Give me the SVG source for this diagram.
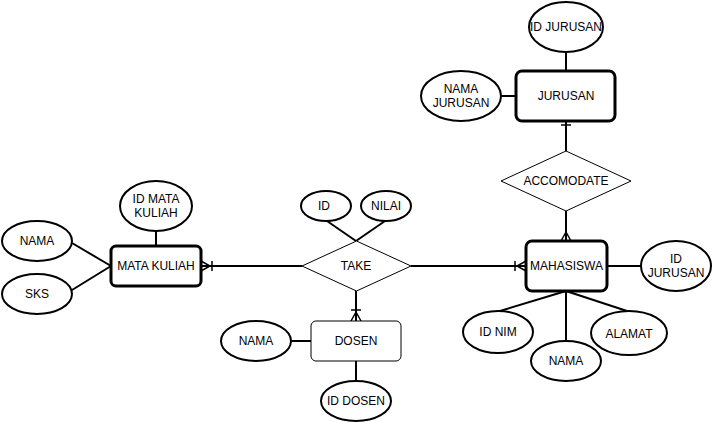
<svg xmlns="http://www.w3.org/2000/svg" width="712" height="422" viewBox="0 0 712 422">
<style>
text{font-family:"Liberation Sans",Arial,sans-serif;font-size:12px;fill:#000;text-anchor:middle;dominant-baseline:central}
.ent{fill:#fff;stroke:#000;stroke-width:3}
.weak{fill:#fff;stroke:#000;stroke-width:1}
.attr{fill:#fff;stroke:#000;stroke-width:2}
.rel{fill:#fff;stroke:#000;stroke-width:1}
.ln{fill:none;stroke:#000;stroke-width:2}
.mk{fill:none;stroke:#000;stroke-width:1.5}
</style>
<rect width="712" height="422" fill="#fff"/>
<g id="connectors">
<line class="ln" x1="566" y1="52" x2="566" y2="71"/>
<line class="ln" x1="501" y1="96" x2="516" y2="96"/>
<line class="ln" x1="566" y1="121" x2="566" y2="151"/>
<path class="mk" d="M561 125H571"/>
<line class="ln" x1="566" y1="211" x2="566" y2="241"/>
<path class="mk" d="M561 241L566 232L571 241M566 232V241"/>
<line class="ln" x1="607" y1="266" x2="641" y2="266"/>
<line class="ln" x1="566" y1="291" x2="500" y2="311"/>
<line class="ln" x1="566" y1="291" x2="566" y2="341"/>
<line class="ln" x1="566" y1="291" x2="627" y2="311"/>
<line class="ln" x1="411" y1="266" x2="526" y2="266"/>
<path class="mk" d="M526 261L517 266L526 271M515 261V271"/>
<line class="ln" x1="201" y1="266" x2="302" y2="266"/>
<path class="mk" d="M201 261L210 266L201 271M212 261V271"/>
<line class="ln" x1="327" y1="221" x2="356" y2="241"/>
<line class="ln" x1="385" y1="221" x2="356" y2="241"/>
<line class="ln" x1="356" y1="291" x2="356" y2="321"/>
<path class="mk" d="M351 321L356 312L361 321M351 310H361"/>
<line class="ln" x1="291" y1="341" x2="311" y2="341"/>
<line class="ln" x1="356" y1="361" x2="356" y2="381"/>
<line class="ln" x1="156" y1="231" x2="156" y2="246"/>
<line class="ln" x1="72" y1="243" x2="111" y2="266"/>
<line class="ln" x1="72" y1="290" x2="111" y2="266"/>
</g>
<g id="jurusan"><rect class="ent" x="516" y="71" width="99" height="50" rx="6"/><text x="566" y="96">JURUSAN</text></g>
<g id="id-jurusan-top"><ellipse class="attr" cx="566" cy="27" rx="37" ry="25"/><text x="566" y="27">ID JURUSAN</text></g>
<g id="nama-jurusan"><ellipse class="attr" cx="461" cy="96" rx="40" ry="25"/><text x="461" y="89">NAMA</text><text x="461" y="103">JURUSAN</text></g>
<g id="accomodate"><polygon class="rel" points="566,151 631,181 566,211 501,181"/><text x="566" y="181">ACCOMODATE</text></g>
<g id="mahasiswa"><rect class="ent" x="526" y="241" width="81" height="50" rx="6"/><text x="566.5" y="266">MAHASISWA</text></g>
<g id="id-jurusan-right"><ellipse class="attr" cx="676" cy="266" rx="35" ry="25"/><text x="676" y="259">ID</text><text x="676" y="273">JURUSAN</text></g>
<g id="id-nim"><ellipse class="attr" cx="498" cy="332" rx="35" ry="21"/><text x="498" y="332">ID NIM</text></g>
<g id="nama-mhs"><ellipse class="attr" cx="566" cy="361" rx="35" ry="20"/><text x="566" y="361">NAMA</text></g>
<g id="alamat"><ellipse class="attr" cx="629" cy="333" rx="38" ry="22"/><text x="629" y="334">ALAMAT</text></g>
<g id="take"><polygon class="rel" points="356.5,241 411,266 356.5,291 302,266"/><text x="356" y="266">TAKE</text></g>
<g id="id-take"><ellipse class="attr" cx="326" cy="206" rx="25" ry="15"/><text x="324" y="206">ID</text></g>
<g id="nilai"><ellipse class="attr" cx="386" cy="206" rx="25" ry="15"/><text x="386" y="206">NILAI</text></g>
<g id="dosen"><rect class="weak" x="311" y="321" width="90" height="40" rx="5"/><text x="356" y="341">DOSEN</text></g>
<g id="nama-dosen"><ellipse class="attr" cx="256" cy="341" rx="35" ry="20"/><text x="256" y="341">NAMA</text></g>
<g id="id-dosen"><ellipse class="attr" cx="356" cy="401" rx="35" ry="20"/><text x="356" y="401">ID DOSEN</text></g>
<g id="mata-kuliah"><rect class="ent" x="111" y="246" width="90" height="40" rx="5"/><text x="156" y="266">MATA KULIAH</text></g>
<g id="id-mata-kuliah"><ellipse class="attr" cx="156" cy="206" rx="36" ry="25"/><text x="156" y="199">ID MATA</text><text x="156" y="213">KULIAH</text></g>
<g id="nama-mk"><ellipse class="attr" cx="37" cy="241" rx="35" ry="20"/><text x="37" y="241">NAMA</text></g>
<g id="sks"><ellipse class="attr" cx="37" cy="294" rx="35" ry="20"/><text x="37" y="294">SKS</text></g>
</svg>
